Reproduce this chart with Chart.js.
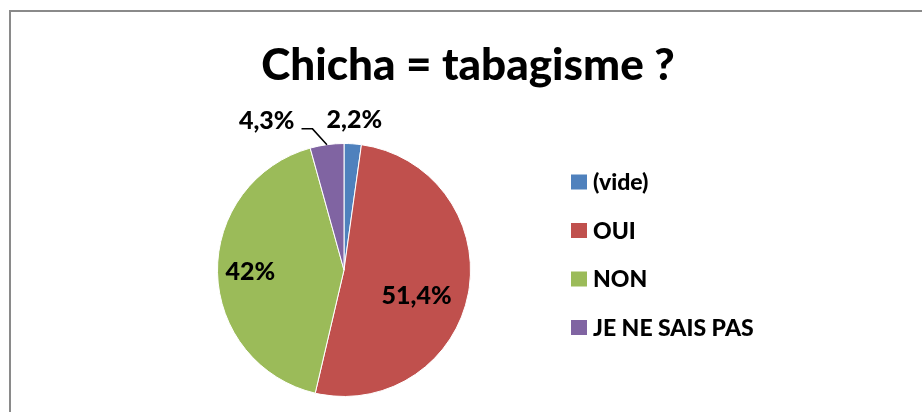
<!DOCTYPE html>
<html>
<head>
<meta charset="utf-8">
<script src="https://cdn.jsdelivr.net/npm/chart.js@4"></script>
<style>
  html, body { margin: 0; padding: 0; background: #fff; overflow: hidden; }
  #wrap { position: relative; width: 922px; height: 412px; }
  #frame {
    position: absolute; left: 9px; top: 10px; width: 940px; height: 420px;
    border-left: 2px solid #8a8a8a; border-top: 2px solid #8a8a8a;
  }
  canvas { position: absolute; left: 0; top: 0; }
</style>
</head>
<body>
<div id="wrap">
  <div id="frame"></div>
  <canvas id="pie" width="922" height="412"></canvas>
</div>
<script>
const title = 'Chicha = tabagisme ?';
const categories = ['(vide)', 'OUI', 'NON', 'JE NE SAIS PAS'];
const values = [2.2, 51.4, 42, 4.3];
const valueLabels = ['2,2%', '51,4%', '42%', '4,3%'];
const colors = ['#4F81BD', '#C0504D', '#9BBB59', '#8064A2'];

const FONT = 'Lato, "Open Sans", sans-serif';

// title, legend and percent labels drawn on the canvas
const decorations = {
  id: 'decorations',
  afterDatasetsDraw(chart, args, opts) {
    const ctx = chart.ctx;
    ctx.save();
    ctx.fillStyle = '#000';

    // title
    ctx.font = '900 ' + opts.titleSize + 'px ' + FONT;
    ctx.textAlign = 'center';
    ctx.textBaseline = 'alphabetic';
    ctx.fillText(title, opts.titleX, opts.titleY);

    // legend
    ctx.font = '900 ' + opts.legendSize + 'px ' + FONT;
    ctx.textAlign = 'left';
    categories.forEach((c, i) => {
      const cy = opts.legendTop + i * opts.legendStep;
      ctx.fillStyle = colors[i];
      ctx.fillRect(opts.legendX, cy - 7.5, 16, 15);
      ctx.fillStyle = '#000';
      ctx.fillText(c, opts.legendX + 22, cy + 8);
    });

    // percent labels
    ctx.font = '900 ' + opts.labelSize + 'px ' + FONT;
    ctx.textAlign = 'center';
    ctx.textBaseline = 'middle';
    const meta = chart.getDatasetMeta(0);
    meta.data.forEach((arc, i) => {
      const p = arc.getProps(['x', 'y', 'startAngle', 'endAngle', 'outerRadius'], true);
      const mid = (p.startAngle + p.endAngle) / 2;
      const cos = Math.cos(mid), sin = Math.sin(mid);
      const d = opts.dist[i] < 2 ? p.outerRadius * opts.dist[i] : p.outerRadius + opts.dist[i];
      const nudge = opts.nudge[i];
      const lx = p.x + cos * d + nudge[0];
      const ly = p.y + sin * d + nudge[1];
      if (Math.abs(nudge[0]) > 20) {
        const w = ctx.measureText(valueLabels[i]).width;
        ctx.strokeStyle = '#000';
        ctx.lineWidth = 1.5;
        ctx.beginPath();
        ctx.moveTo(p.x + cos * p.outerRadius, p.y + sin * p.outerRadius);
        ctx.lineTo(lx + w / 2 + 18, ly + 8);
        ctx.lineTo(lx + w / 2 + 7, ly + 8);
        ctx.stroke();
      }
      ctx.fillText(valueLabels[i], lx, ly);
    });
    ctx.restore();
  }
};

new Chart(document.getElementById('pie'), {
  type: 'pie',
  data: {
    labels: categories,
    datasets: [{
      data: values,
      backgroundColor: colors,
      borderColor: '#ffffff',
      borderWidth: 1
    }]
  },
  options: {
    responsive: false,
    animation: false,
    layout: { padding: { left: 217, right: 451, top: 143, bottom: 15 } },
    plugins: {
      legend: { display: false },
      tooltip: { enabled: false },
      decorations: {
        titleSize: 44, titleX: 468, titleY: 80,
        legendSize: 23, legendX: 571, legendTop: 182, legendStep: 48.5,
        labelSize: 25,
        dist: [24, 0.6, 0.74, 24],
        nudge: [[0, 0], [-2, 12], [0, 0], [-57, 0]]
      }
    }
  },
  plugins: [decorations]
});
</script>
</body>
</html>
